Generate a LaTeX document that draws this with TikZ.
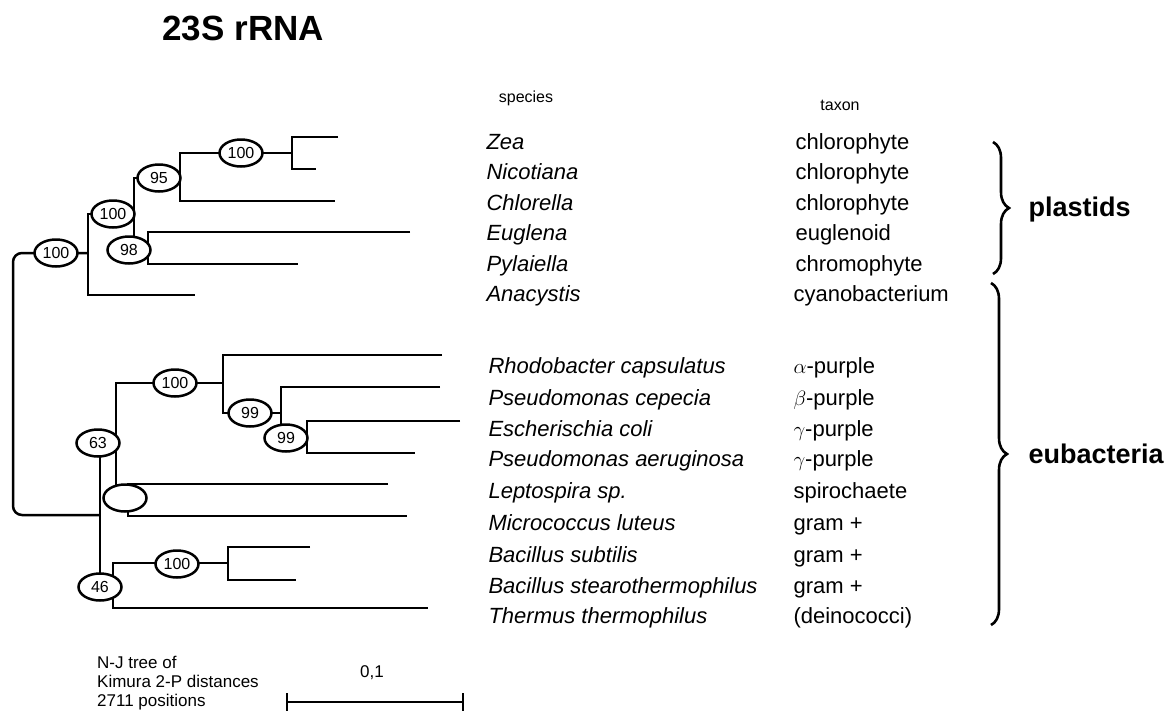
\documentclass[tikz,border=0pt]{standalone}
\usepackage{fontspec}
\setmainfont{Liberation Sans}
\usetikzlibrary{shapes.geometric,decorations.pathreplacing}
\begin{document}
\begin{tikzpicture}[x=1pt,y=-1pt,
  br/.style={line width=2.5pt},
  bs/.style={ellipse,draw,line width=2.5pt,fill=white,minimum width=43pt,minimum height=27pt,inner sep=0pt,font=\fontsize{16}{16}\selectfont},
  sp/.style={anchor=base west,font=\fontsize{22}{22}\selectfont\itshape},
  tx/.style={anchor=base west,font=\fontsize{22}{22}\selectfont},
  hd/.style={font=\fontsize{16}{16}\selectfont},
  grp/.style={anchor=base west,font=\fontsize{27}{27}\selectfont\bfseries},
  brc/.style={line width=2.6pt,decorate,decoration={brace,amplitude=16pt}}]
\useasboundingbox (0,0) rectangle (1164,710);
% leaves
\coordinate (Zea) at (338,137);
\coordinate (Nic) at (316,169);
\coordinate (Chl) at (335,201);
\coordinate (Eug) at (410,232);
\coordinate (Pyl) at (298,264);
\coordinate (Ana) at (195,295);
\coordinate (Rho) at (442,355);
\coordinate (Cep) at (440,387);
\coordinate (Col) at (460,421);
\coordinate (Aer) at (415,453);
\coordinate (Lep) at (388,484);
\coordinate (Mic) at (407,516);
\coordinate (Sub) at (310,547);
\coordinate (Ste) at (296,580);
\coordinate (The) at (428,608);
% internal nodes
\coordinate (U) at (292,153);
\coordinate (S) at (180,178);
\coordinate (T) at (148,250);
\coordinate (Q) at (134,214);
\coordinate (P) at (88,253);
\coordinate (L) at (307,438);
\coordinate (K) at (281,413);
\coordinate (G) at (223,383);
\coordinate (H) at (128,500);
\coordinate (F) at (116,443);
\coordinate (J) at (228,563);
\coordinate (I) at (113,587);
\coordinate (E) at (100,515);
\coordinate (R) at (13,384);
% branches
\draw[br] (Zea) -- (Zea -| U) -- (Nic -| U) -- (Nic);
\draw[br] (U) -- (U -| S) -- (Chl -| S) -- (Chl);
\draw[br] (Eug) -- (Eug -| T) -- (Pyl -| T) -- (Pyl);
\draw[br] (S) -- (S -| Q) -- (T -| Q) -- (T);
\draw[br] (Q) -- (Q -| P) -- (Ana -| P) -- (Ana);
\draw[br] (Col) -- (Col -| L) -- (Aer -| L) -- (Aer);
\draw[br] (Cep) -- (Cep -| K) -- (L -| K) -- (L);
\draw[br] (Rho) -- (Rho -| G) -- (K -| G) -- (K);
\draw[br] (Lep) -- (Lep -| H) -- (Mic -| H) -- (Mic);
\draw[br] (G) -- (G -| F) -- (H -| F) -- (H);
\draw[br] (Sub) -- (Sub -| J) -- (Ste -| J) -- (Ste);
\draw[br] (J) -- (J -| I) -- (The -| I) -- (The);
\draw[br] (F) -- (F -| E) -- (I -| E) -- (I);
\draw[br,rounded corners=9pt] (P) -- (P -| R) -- (E -| R) -- (E);
% bootstrap labels
\node[bs] (bU) at (241,153) {100};
\node[bs] (bS) at (159,178) {95};
\node[bs] (bQ) at (113,214) {100};
\node[bs] (bT) at (129,250) {98};
\node[bs] (bP) at (56,253) {100};
\node[bs] (bG) at (175,383) {100};
\node[bs] (bK) at (250,413) {99};
\node[bs] (bL) at (286,438) {99};
\node[bs] (bF) at (98,443) {63};
\node[bs] (bH) at (125,498) {};
\node[bs] (bJ) at (177,564) {100};
\node[bs] (bI) at (100,587) {46};
% title and headers
\node[anchor=base west,font=\fontsize{35}{35}\selectfont\bfseries] (title) at (159,40) {23S rRNA};
\node[hd] (hsp) at (526,98) {species};
\node[hd] (htx) at (840,105) {taxon};
% species
\node[sp] (s1) at (483,149) {Zea};
\node[sp] (s2) at (483,179) {Nicotiana};
\node[sp] (s3) at (483,210) {Chlorella};
\node[sp] (s4) at (483,240) {Euglena};
\node[sp] (s5) at (483,271) {Pylaiella};
\node[sp] (s6) at (483,301) {Anacystis};
\node[sp] (s7) at (485,373) {Rhodobacter capsulatus};
\node[sp] (s8) at (485,405) {Pseudomonas cepecia};
\node[sp] (s9) at (485,436) {Escherischia coli};
\node[sp] (s10) at (485,466) {Pseudomonas aeruginosa};
\node[sp] (s11) at (485,498) {Leptospira sp.};
\node[sp] (s12) at (485,530) {Micrococcus luteus};
\node[sp] (s13) at (485,562) {Bacillus subtilis};
\node[sp] (s14) at (485,593) {Bacillus stearothermophilus};
\node[sp] (s15) at (485,623) {Thermus thermophilus};
% taxa
\node[tx] (t1) at (792,149) {chlorophyte};
\node[tx] (t2) at (792,179) {chlorophyte};
\node[tx] (t3) at (792,210) {chlorophyte};
\node[tx] (t4) at (792,240) {euglenoid};
\node[tx] (t5) at (792,271) {chromophyte};
\node[tx] (t6) at (790,301) {cyanobacterium};
\node[tx] (t7) at (790,373) {$\alpha$-purple};
\node[tx] (t8) at (790,405) {$\beta$-purple};
\node[tx] (t9) at (790,436) {$\gamma$-purple};
\node[tx] (t10) at (790,466) {$\gamma$-purple};
\node[tx] (t11) at (790,498) {spirochaete};
\node[tx] (t12) at (790,530) {gram +};
\node[tx] (t13) at (790,562) {gram +};
\node[tx] (t14) at (790,593) {gram +};
\node[tx] (t15) at (790,623) {(deinococci)};
% braces
\coordinate (pb1) at (993,142);
\coordinate (pb2) at (993,274);
\coordinate (eb1) at (991,283);
\coordinate (eb2) at (991,625);
\draw[brc] (pb1) -- (pb2);
\draw[brc] (eb1) -- (eb2);
\node[grp] (plas) at (1025,216) {plastids};
\node[grp] (eub) at (1025,463) {eubacteria};
% legend and scale bar
\node[anchor=north west,align=left,inner sep=0pt,font=\fontsize{17}{19}\selectfont] (leg) at (97,656) {N-J tree of\\Kimura 2-P distances\\2711 positions};
\coordinate (sbL) at (287,702);
\coordinate (sbR) at (463,702);
\draw[br] (sbL) -- (sbR);
\draw[br] ([yshift=-11pt]sbL) -- ([yshift=9pt]sbL);
\draw[br] ([yshift=-11pt]sbR) -- ([yshift=9pt]sbR);
\node[font=\fontsize{17}{17}\selectfont] (sbl) at (372,673) {0,1};
\end{tikzpicture}
\end{document}
